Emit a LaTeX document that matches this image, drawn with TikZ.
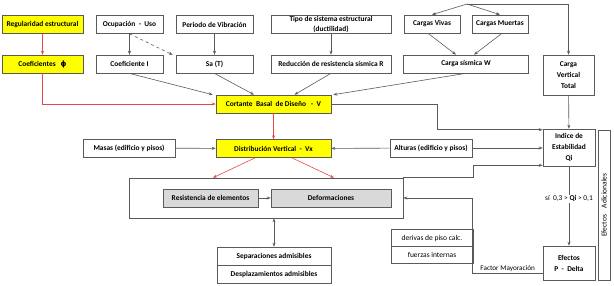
\documentclass[tikz,border=0pt]{standalone}
\usepackage{fontspec}
\setmainfont{Carlito}
\newfontfamily\phifont{DejaVu Sans}
\usetikzlibrary{arrows.meta,positioning}
\definecolor{boxyellow}{RGB}{255,255,0}
\definecolor{linegray}{RGB}{90,90,90}
\definecolor{fillgray}{RGB}{217,217,217}
\definecolor{flowred}{RGB}{232,70,70}

\begin{document}
\begin{tikzpicture}[x=1pt,y=-1pt,
  font=\fontsize{7.4}{11}\selectfont\bfseries,
  node distance=21pt,
  box/.style={rectangle,draw=linegray,fill=white,line width=0.6pt,inner sep=1pt,minimum height=18pt,align=center},
  keybox/.style={box,fill=boxyellow},
  shadebox/.style={box,fill=fillgray},
  thinbox/.style={box,font=\fontsize{7.5}{11}\selectfont\mdseries},
  arrow/.style={-{Stealth[length=4pt,width=3pt]},line width=0.6pt,draw=linegray},
  redarrow/.style={arrow,draw=flowred}]
  \useasboundingbox (0,0) rectangle (614,285);
  % first rows: inputs of the seismic analysis
  \node[keybox,minimum width=81pt] (regul) at (42.5,24.5) {Regularidad estructural};
  \node[keybox,minimum width=81pt,below=of regul] (coefphi) {Coeficientes\ \ \ {\phifont ϕ}};
  \node[box,minimum width=67pt] (ocup) at (129.5,24.5) {Ocupación\ \ -\ \ Uso};
  \node[box,minimum width=67pt,below=of ocup] (coefI) {Coeficiente I};
  \node[box,minimum width=77pt] (periodo) at (214.5,24.5) {Periodo de Vibración};
  \node[box,minimum width=77pt,below=of periodo] (sa) {Sa (T)};
  \node[box,minimum width=120pt,font=\fontsize{7.4}{9.5}\selectfont\bfseries,inner sep=0pt] (tipo) at (331,24.5) {Tipo de sistema estructural\\(ductilidad)};
  \node[box,minimum width=120pt] (reduc) at (331,64) {Reducción de resistencia sísmica R};
  \node[box,minimum width=56pt] (vivas) at (432,24) {Cargas Vivas};
  \node[box,minimum width=56pt] (muertas) at (500,24) {Cargas Muertas};
  \node[box,minimum width=125pt] (wsis) at (466,64) {Carga sísmica W};
  \node[box,minimum width=51pt,minimum height=40pt] (cvt) at (568.5,75) {Carga\\Vertical\\Total};
  % shear and its distribution
  \node[keybox,minimum width=115pt] (cortante) at (273.5,104) {Cortante\ \ Basal\ \ de Diseño\ \ \ -\ \ V};
  \node[keybox,minimum width=115pt,below=26pt of cortante] (distrib) {Distribución Vertical\ \ -\ \ Vx};
  \node[box,minimum width=92pt] (masas) at (129,148) {Masas (edificio y pisos)};
  \node[box,minimum width=82pt] (alturas) at (431,148) {Alturas (edificio y pisos)};
  \node[box,minimum width=52pt,minimum height=37pt] (indice) at (569,147.5) {Indice de\\Estabilidad\\Qi};
  % checks
  \node[box,minimum width=274pt,minimum height=40pt] (analysis) at (266,198) {};
  \node[shadebox,minimum width=95pt] (resist) at (210.5,198) {Resistencia de elementos};
  \node[shadebox,minimum width=120pt] (deform) at (331,198) {Deformaciones};
  \node[box,minimum width=114pt] (separ) at (274,256) {Separaciones admisibles};
  \node[box,minimum width=114pt] (desplaz) at (274,274) {Desplazamientos admisibles};
  \node[thinbox,minimum width=82pt,minimum height=17pt] (derivas) at (432,238) {derivas de piso calc.};
  \node[thinbox,minimum width=82pt,minimum height=17pt] (fuerzas) at (432,255) {fuerzas internas};
  \node[box,minimum width=52pt,minimum height=34pt] (efectos) at (569,263) {Efectos\\P\ \ -\ \ Delta};
  \node[thinbox,rotate=90,minimum width=150pt,minimum height=12pt,inner sep=0pt] (adic) at (604,205) {Efectos\ \ \ \ Adicionales};
  \coordinate (cargas) at (467,4);
  % connectors
  \draw[redarrow] (regul) -- (coefphi);
  \draw[redarrow] (coefphi.south) |- (cortante.west);
  \draw[arrow] (ocup) -- (coefI);
  \draw[arrow,dashed] (ocup.south) -- ([xshift=-3pt]sa.north west);
  \draw[arrow] (periodo) -- (sa);
  \draw[arrow] (tipo) -- (reduc);
  \draw[arrow] (cargas) -- (vivas.north);
  \draw[arrow] (cargas) -- (muertas.north);
  \draw[arrow] (cargas) -| (cvt.north);
  \draw[arrow] ([xshift=-4pt]vivas.south) -- ([xshift=-10pt]wsis.north);
  \draw[arrow] ([xshift=2pt]muertas.south) -- ([xshift=8pt]wsis.north);
  \draw[arrow] (coefI.south) -- ([xshift=-3pt]cortante.north west);
  \draw[arrow] (sa.south) -- ([xshift=-19.5pt]cortante.north);
  \draw[arrow] (reduc.south) -- ([xshift=21pt]cortante.north);
  \draw[arrow] (wsis.south) -- ([xshift=2pt]cortante.north east);
  \draw[arrow] (cortante.east) -- ++(106,0) |- ([yshift=-1pt]indice.north west);
  \draw[arrow] (cvt) -- (indice);
  \draw[arrow] (alturas.east) -- (alturas.east -| indice.west);
  \draw[arrow] (alturas) -- (distrib);
  \draw[arrow] (masas) -- (distrib);
  \draw[redarrow] (cortante) -- (distrib);
  \draw[redarrow] ([xshift=-18.5pt]distrib.south) -- ([xshift=-53pt]analysis.north);
  \draw[redarrow] ([xshift=18.5pt]distrib.south) -- ([xshift=68pt]analysis.north);
  \draw[arrow] (analysis.north east) -- ++(70,0) |- ([yshift=1pt]indice.south west);
  \draw[arrow] (resist) -- (deform);
  \draw[{Stealth[length=4pt,width=3pt]}-{Stealth[length=4pt,width=3pt]},line width=0.6pt,draw=linegray] (analysis.south -| separ.north) -- (separ.north);
  \draw[arrow] (indice) -- node[pos=0.41,fill=white,inner sep=1pt,font=\fontsize{7.4}{8}\selectfont\mdseries] {sí\ \ 0,3 > \textbf{Qi} > 0,1} (efectos);
  \draw[arrow] ([yshift=-10pt]efectos.west) -- node[above,inner sep=1.5pt,font=\fontsize{7.2}{8}\selectfont\mdseries] {Factor Mayoración} ++(-70,0) |- (analysis.east);
\end{tikzpicture}
\end{document}
